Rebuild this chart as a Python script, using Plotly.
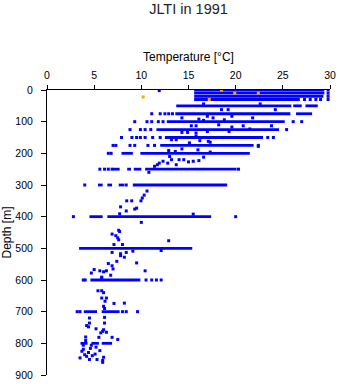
import plotly.graph_objects as go

# Dense "standard depth" rows read as temperature ranges (depth m, Tstart, Tend in °C)
row_depth = [0, 10, 20, 30, 50, 50, 50, 75, 75, 100, 125, 150, 175, 200, 200,
             250, 250, 250, 250, 300, 300, 300, 300, 400, 400, 500, 600, 700, 700,
             800, 800, 800]
row_t0 = [15.6, 15.6, 15.6, 15.6, 13.7, 26.1, 27.4, 13.6, 26.4, 12.7, 11.6, 12.5, 12.0, 7.9, 9.9,
          7.0, 8.5, 9.2, 10.4, 5.4, 6.4, 7.6, 9.1, 4.5, 6.4, 3.4, 4.6, 3.9, 5.8,
          3.55, 4.7, 5.8]
row_t1 = [29.4, 29.4, 29.3, 26.8, 25.9, 27.0, 28.7, 25.8, 28.1, 25.2, 24.6, 22.9, 21.9, 9.1, 21.5,
          7.7, 8.9, 10.0, 20.1, 5.9, 6.9, 8.2, 19.1, 5.9, 17.4, 15.4, 9.9, 5.3, 7.7,
          4.3, 5.5, 6.9]

# Individual observations (temperature °C, depth m)
pt_temp = [29.8, 29.8, 29.8, 27.3, 27.9, 28.5, 29.0, 29.8,
           11.1, 12.0, 12.5, 12.9, 13.3,
           9.3, 10.6, 11.1, 11.8, 12.3, 26.1, 27.0,
           8.8, 9.9, 10.4, 11.0, 25.4,
           7.9, 9.0, 9.5, 9.9, 10.4, 11.2, 12.0, 23.4, 24.0,
           7.0, 7.3, 8.8, 9.3, 10.7, 11.4, 22.4,
           6.5, 6.8,
           5.6, 6.1, 6.5, 6.9, 20.3,
           4.0, 8.4,
           2.8, 20.0,
           3.85, 4.05, 10.5, 11.1, 11.6, 12.1,
           3.2, 3.5, 8.0, 8.4, 9.6,
           11.9,
           16.6, 22.6, 18.5, 19.2, 24.2,
           14.3, 16.1, 17.0, 17.6, 18.8, 19.6, 21.8, 16.6,
           15.3, 15.8, 18.2, 19.6, 20.8, 23.8,
           15.8, 14.3, 14.9, 17.0, 19.3, 21.5,
           15.8, 13.2, 13.7, 16.2, 17.1, 17.3, 15.1, 22.4,
           12.9, 13.6, 14.3, 16.0, 17.3,
           16.6, 13.0, 13.2, 14.0, 14.5, 15.0, 15.5, 16.1, 12.3, 11.9, 11.7, 12.8, 13.7, 11.4,
           10.8,
           10.6, 10.3, 10.1, 9.96, 8.45, 8.98, 7.8, 8.4, 9.3, 9.5, 7.7, 15.5, 10.0,
           7.6, 7.7, 6.9, 7.3, 7.5, 7.6, 12.9, 7.1, 8.0,
           12.1, 9.1, 6.9, 7.8, 8.4, 8.2, 7.8, 7.4, 9.5, 6.5, 6.9, 7.0, 5.0, 5.6, 6.0, 6.3,
           4.7, 10.4, 6.75, 5.8, 5.8,
           5.4, 5.8, 6.0, 5.8, 6.3, 6.15, 7.1, 8.2, 6.0, 6.1,
           6.1, 4.5, 6.1, 4.5, 4.2, 4.4, 5.2, 6.0, 5.9, 6.3, 5.7, 6.9, 5.5, 4.1, 7.5, 4.1,
           3.85, 4.7, 5.2, 4.6, 3.85, 5.6, 3.7, 4.4, 5.1, 4.0, 4.8, 4.2, 6.0, 3.5, 4.5, 5.3,
           5.9, 5.9]
pt_depth = [0, 10, 20, 30, 30, 30, 30, 30,
            75, 75, 75, 75, 75,
            100, 100, 100, 100, 100, 100, 100,
            125, 125, 125, 125, 125,
            150, 150, 150, 150, 150, 150, 150, 150, 150,
            175, 175, 175, 175, 175, 175, 175,
            200, 200,
            250, 250, 250, 250, 250,
            300, 300,
            400, 400,
            600, 600, 600, 600, 600, 600,
            700, 700, 700, 700, 700,
            2,
            44, 44, 62, 62, 62,
            88, 92, 83, 88, 94, 83, 88, 96,
            113, 113, 110, 117, 113, 113,
            136, 134, 134, 131, 131, 123,
            146, 157, 157, 160, 162, 165, 167, 178,
            191, 194, 186, 189, 196,
            212, 210, 220, 220, 220, 227, 225, 223, 225, 231, 236, 231, 236, 241,
            260,
            319, 332, 341, 350, 350, 350, 369, 382, 376, 373, 391, 392, 418,
            443, 447, 455, 460, 467, 473, 476, 488, 488,
            507, 509, 513, 517, 513, 528, 523, 541, 546, 548, 555, 565, 567, 571, 574, 571,
            578, 571, 585, 594, 591,
            634, 634, 640, 657, 657, 667, 674, 673, 683, 690,
            718, 720, 736, 736, 744, 748, 754, 757, 762, 765, 767, 781, 781, 780, 788, 791,
            806, 806, 812, 816, 819, 823, 825, 829, 834, 836, 839, 841, 844, 846, 851, 851,
            854, 860]

# Flagged observations (orange)
flag_temp = [18.5, 19.9, 22.4, 17.2, 10.2]
flag_depth = [0, 10, 10, 30, 22]

BLUE = "#0000ff"
ORANGE = "#ffa500"

seg_x, seg_y = [], []
for d, a, b in zip(row_depth, row_t0, row_t1):
    seg_x += [a, b, None]
    seg_y += [d, d, None]

fig = go.Figure()
fig.add_trace(go.Scatter(x=seg_x, y=seg_y, mode="lines",
                         line=dict(color=BLUE, width=2.8), hoverinfo="skip",
                         showlegend=False))
fig.add_trace(go.Scatter(x=pt_temp, y=pt_depth, mode="markers",
                         marker=dict(symbol="square", size=3, color=BLUE,
                                     line=dict(width=0)),
                         showlegend=False))
fig.add_trace(go.Scatter(x=flag_temp, y=flag_depth, mode="markers",
                         marker=dict(symbol="square", size=3, color=ORANGE,
                                     line=dict(width=0)),
                         showlegend=False))

font_family = "Liberation Sans, Arial, sans-serif"
fig.update_layout(
    width=341, height=384,
    margin=dict(l=47, r=11, t=90, b=9, autoexpand=False),
    paper_bgcolor="white", plot_bgcolor="white",
    font=dict(family=font_family, color="black", size=10.5),
    title=dict(text="JLTI in 1991", x=(47 + 330) / 2 / 341, xanchor="center",
               y=1 - 9 / 384, yanchor="middle", yref="container",
               font=dict(size=14.5, color="#222222")),
    showlegend=False,
)
fig.update_xaxes(
    side="top", range=[0, 30], tickvals=[0, 5, 10, 15, 20, 25, 30],
    showgrid=False, zeroline=False, showline=True, linecolor="black", linewidth=1,
    ticks="outside", ticklen=4, tickwidth=1, tickcolor="black",
    tickfont=dict(size=10.5), ticklabelstandoff=2,
    title=dict(text="Temperature [°C]", font=dict(size=12), standoff=4),
)
fig.update_yaxes(
    range=[900, 0], tickvals=[0, 100, 200, 300, 400, 500, 600, 700, 800, 900],
    showgrid=False, zeroline=False, showline=True, linecolor="black", linewidth=1,
    ticks="outside", ticklen=5, tickwidth=1, tickcolor="black",
    tickfont=dict(size=10.5), ticklabelstandoff=6,
    title=dict(text="Depth [m]", font=dict(size=12), standoff=4),
)

fig.write_html("out.html")
